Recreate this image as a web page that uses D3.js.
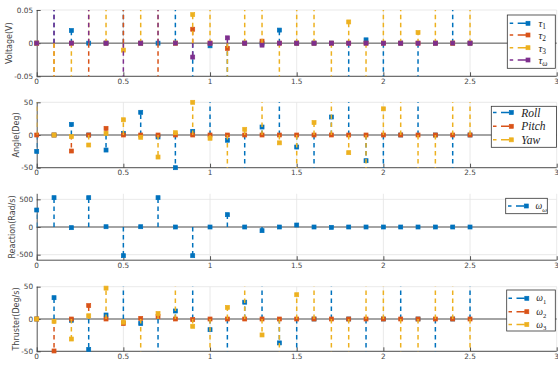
<!DOCTYPE html>
<html>
<head>
<meta charset="utf-8">
<script src="https://cdn.jsdelivr.net/npm/d3@7"></script>
<style>
  body { margin: 0; background: #fff; }
  svg { display: block; }
</style>
</head>
<body>
<svg id="chart" width="558" height="365"></svg>
<script>
// Sampling instants (s)
const time = [0, 0.1, 0.2, 0.3, 0.4, 0.5, 0.6, 0.7, 0.8, 0.9, 1.0, 1.1, 1.2,
              1.3, 1.4, 1.5, 1.6, 1.7, 1.8, 1.9, 2.0, 2.1, 2.2, 2.3, 2.4, 2.5];
const xTicks = [0, 0.5, 1, 1.5, 2, 2.5, 3];
const xTickLabels = ["0", "0.5", "1", "1.5", "2", "2.5", "3"];

// Control voltages (V); values beyond ±0.05 run off the axes
const tau1 = [0, 0.08, 0.019, 0, 0, 0.08, 0, 0, 0.08, -0.08, -0.004, -0.08, 0,
              0, 0.0197, 0, 0, 0, -0.08, 0.005, -0.08, 0, -0.08, 0, 0.08, 0];
const tau2 = [0, -0.08, 0, -0.08, 0, 0.08, 0, -0.08, 0, 0.021, 0, -0.008, 0,
              0.003, 0, 0, 0, 0, 0, 0, 0, 0, 0, 0, 0, 0];
const tau3 = [0, -0.08, -0.08, 0.08, 0.08, -0.0105, 0.08, 0.08, 0, 0.043, 0.08, -0.08, 0.08,
              0.08, -0.08, 0.08, 0.08, -0.08, 0.032, -0.08, 0.08, 0.08, 0.016, 0.08, 0, 0.08];
const tauW = [0, 0.08, 0, 0.08, 0, -0.08, 0, 0.08, 0, -0.021, 0, 0.008, 0,
              -0.003, 0, 0, 0, 0, 0, 0, 0, 0, 0, 0, 0, 0];
const voltageTicks = [-0.05, 0, 0.05];
const voltageTickLabels = ["-0.05", "0", "0.05"];

// Attitude angles (deg)
const roll  = [-25, 0, 16.3, 0, -23, 2.5, 34.7, -3, -50, 5.6, 80, -8, -80,
               12.2, 80, -18.4, -80, 27.5, 80, -39.3, -80, 0, 80, 0, -80, 0];
const pitch = [0, 0, -24.5, 0, 10.2, 0, 0, 0, 0, 0, 0, 0, 0,
               0, 0, 0, 0, 0, 0, 0, 0, 0, 0, 0, 0, 0];
const yaw   = [80, 0, -2.5, -15.3, 2.5, 23.3, -3.5, -33.7, 3.5, 50, -5, -80, 8.7,
               80, -12, -80, 19, 80, -27, -80, 40, 80, -80, -80, 80, 80];
const angleTicks = [-50, 0, 50];
const angleTickLabels = ["-50", "0", "50"];

// Reaction wheel speed (rad/s)
const wheel = [307, 530, -12, 530, 5, -518, 5, 530, 0, -518, 0, 223, 0,
               -66, 0, 36, 0, -6, 0, 0, 0, 0, 0, 0, 0, 0];
const wheelTicks = [-500, 0, 500];
const wheelTickLabels = ["-500", "0", "500"];

// Thruster body rates (deg/s)
const omega1 = [0, 33, -2, -47, 6.2, 80, -7, -80, 12.4, 80, -16.5, -80, 26,
                80, -37, -80, 0, 80, 0, -80, 0, 80, 0, -80, 0, 80];
const omega2 = [0, -49.5, 0, 20.7, 0, -7, 1, 4, 0, -1, 0, 0, 0,
                0, 0, 0, 0, 0, 0, 0, 0, 0, 0, 0, 0, 0];
const omega3 = [0, -3.6, -31, 5, 47.8, -5, -80, 8.5, 80, -11.3, -80, 18, 80,
                -24.7, -80, 37.6, 80, -80, -80, 80, 80, -80, -80, 80, 80, -80];
const rateTicks = [-50, 0, 50];
const rateTickLabels = ["-50", "0", "50"];

const BLUE = "#0072BD", ORANGE = "#D95319", YELLOW = "#EDB120", PURPLE = "#7E2F8E";

const svg = d3.select("#chart");
const x = d3.scaleLinear().domain([0, 3]).range([36.7, 556.7]);

const panels = [
  {
    top: 10, bottom: 76.3, domain: [-0.05, 0.05],
    ticks: voltageTicks, tickLabels: voltageTickLabels,
    ylabel: "Voltage(V)", labelX: 9.5,
    series: [
      { values: tau1, color: BLUE,   name: ["τ", "1", false] },
      { values: tau2, color: ORANGE, name: ["τ", "2", false] },
      { values: tau3, color: YELLOW, name: ["τ", "3", false] },
      { values: tauW, color: PURPLE, name: ["τ", "ω", true] }
    ],
    legend: { x: 507.3, y: 15, w: 48, h: 53.3, rows: [23.3, 35, 47.7, 60],
              x0: 509.7, x1: 528, tx: 538.5, size: 10.5 }
  },
  {
    top: 102.3, bottom: 167.7, domain: [-50, 50],
    ticks: angleTicks, tickLabels: angleTickLabels,
    ylabel: "Angle(Deg)", labelX: 16.5,
    series: [
      { values: roll,  color: BLUE,   name: ["Roll", "", false] },
      { values: pitch, color: ORANGE, name: ["Pitch", "", false] },
      { values: yaw,   color: YELLOW, name: ["Yaw", "", false] }
    ],
    legend: { x: 491.3, y: 106.3, w: 65.3, h: 41, rows: [112.5, 126.3, 139.8],
              x0: 493, x1: 511.3, tx: 521.3, size: 11.5 }
  },
  {
    top: 193.8, bottom: 260.2, domain: [-600, 600],
    ticks: wheelTicks, tickLabels: wheelTickLabels,
    ylabel: "Reaction(Rad/s)", labelX: 12,
    series: [
      { values: wheel, color: BLUE, name: ["ω", "ω", true] }
    ],
    legend: { x: 505.7, y: 198.3, w: 41.6, h: 15.4, rows: [206],
              x0: 508, x1: 526.3, tx: 535.5, size: 9.5 }
  },
  {
    top: 286.7, bottom: 351.3, domain: [-50, 50],
    ticks: rateTicks, tickLabels: rateTickLabels,
    ylabel: "Thruster(Deg/s)", labelX: 16.5,
    series: [
      { values: omega1, color: BLUE,   name: ["ω", "1", false] },
      { values: omega2, color: ORANGE, name: ["ω", "2", false] },
      { values: omega3, color: YELLOW, name: ["ω", "3", false] }
    ],
    legend: { x: 506.7, y: 290, w: 48.6, h: 41, rows: [298.3, 311.7, 324.5],
              x0: 508.5, x1: 526.8, tx: 536.3, size: 9.5 }
  }
];

const AXIS = "#404040", GRID = "#e3e3e3", TEXT = "#444";
const MS = 4; // marker side length

panels.forEach((p, pi) => {
  const y = d3.scaleLinear().domain(p.domain).range([p.bottom, p.top]);
  const g = svg.append("g");
  const clipId = "clip" + pi;
  svg.append("clipPath").attr("id", clipId)
    .append("rect")
    .attr("x", x(0)).attr("y", p.top)
    .attr("width", x(3) - x(0)).attr("height", p.bottom - p.top);

  // grid
  g.selectAll(".vgrid").data(xTicks.slice(1)).join("line")
    .attr("x1", d => x(d)).attr("x2", d => x(d))
    .attr("y1", p.top).attr("y2", p.bottom)
    .attr("stroke", GRID).attr("stroke-width", 0.8);
  g.selectAll(".hgrid").data(p.ticks).join("line")
    .attr("x1", x(0)).attr("x2", x(3))
    .attr("y1", d => y(d)).attr("y2", d => y(d))
    .attr("stroke", GRID).attr("stroke-width", 0.8);

  // axes (left and bottom) with inward ticks
  const yAxis = d3.axisRight(y).tickValues(p.ticks).tickSize(4).tickFormat("");
  const xAxis = d3.axisTop(x).tickValues(xTicks).tickSize(4).tickFormat("");
  const ya = g.append("g").attr("transform", `translate(${x(0)},0)`).call(yAxis);
  const xa = g.append("g").attr("transform", `translate(0,${p.bottom})`).call(xAxis);
  [ya, xa].forEach(a => {
    a.select(".domain").attr("stroke", AXIS).attr("stroke-width", 0.9);
    a.selectAll(".tick line").attr("stroke", AXIS).attr("stroke-width", 0.9);
  });
  ya.select(".domain").attr("d", `M0.5,${p.top}V${p.bottom}`);
  xa.select(".domain").attr("d", `M${x(0)},0H${x(3)}`);

  // tick labels
  g.selectAll(".ytl").data(p.ticks).join("text")
    .attr("x", x(0) - 3.6).attr("y", d => y(d))
    .attr("text-anchor", "end").attr("dominant-baseline", "central")
    .attr("font-family", "DejaVu Sans").attr("font-size", 7.3)
    .attr("fill", TEXT)
    .text((d, i) => p.tickLabels[i]);
  g.selectAll(".xtl").data(xTicks).join("text")
    .attr("x", d => x(d)).attr("y", p.bottom + 7.6)
    .attr("text-anchor", "middle")
    .attr("font-family", "DejaVu Sans").attr("font-size", 7.3)
    .attr("fill", TEXT)
    .text((d, i) => xTickLabels[i]);

  // y label
  g.append("text")
    .attr("transform", `translate(${p.labelX},${(p.top + p.bottom) / 2}) rotate(-90)`)
    .attr("text-anchor", "middle").attr("dominant-baseline", "central")
    .attr("font-family", "DejaVu Sans").attr("font-size", 8)
    .attr("fill", TEXT)
    .text(p.ylabel);

  // stem baseline
  g.append("line")
    .attr("x1", x(0)).attr("x2", x(3))
    .attr("y1", y(0)).attr("y2", y(0))
    .attr("stroke", "#555").attr("stroke-width", 1);

  // stems and markers, series by series
  p.series.forEach(s => {
    const pts = time.map((t, i) => ({ t, v: s.values[i] }));
    g.append("g").attr("clip-path", `url(#${clipId})`)
      .selectAll("line").data(pts.filter(d => d.v !== 0)).join("line")
      .attr("x1", d => x(d.t)).attr("x2", d => x(d.t))
      .attr("y1", y(0)).attr("y2", d => y(d.v))
      .attr("stroke", s.color).attr("stroke-width", 1.5)
      .attr("stroke-dasharray", "4.5,3.5");
    const lo = Math.min(...p.domain), hi = Math.max(...p.domain);
    g.append("g")
      .selectAll("rect").data(pts.filter(d => d.v >= lo && d.v <= hi)).join("rect")
      .attr("x", d => x(d.t) - MS / 2).attr("y", d => y(d.v) - MS / 2)
      .attr("width", MS).attr("height", MS)
      .attr("fill", s.color).attr("stroke", s.color).attr("stroke-width", 0.7);
  });

  // legend
  const L = p.legend;
  const lg = svg.append("g");
  lg.append("rect")
    .attr("x", L.x).attr("y", L.y).attr("width", L.w).attr("height", L.h)
    .attr("fill", "#fff").attr("stroke", "#333").attr("stroke-width", 0.8);
  p.series.forEach((s, i) => {
    const ry = L.rows[i];
    lg.append("line")
      .attr("x1", L.x0).attr("x2", L.x1 - 2).attr("y1", ry).attr("y2", ry)
      .attr("stroke", s.color).attr("stroke-width", 1.5)
      .attr("stroke-dasharray", "3.5,4.5,9,10");
    lg.append("rect")
      .attr("x", L.x1 - MS / 2).attr("y", ry - MS / 2)
      .attr("width", MS).attr("height", MS)
      .attr("fill", s.color).attr("stroke", s.color).attr("stroke-width", 0.7);
    const t = lg.append("text")
      .attr("x", L.tx).attr("y", ry).attr("dominant-baseline", "central")
      .attr("font-family", "Liberation Serif").attr("font-size", L.size)
      .attr("fill", "#222");
    t.append("tspan").attr("font-style", "italic").text(s.name[0]);
    if (s.name[1]) {
      t.append("tspan")
        .attr("dy", L.size * 0.3)
        .attr("font-size", L.size * 0.7)
        .attr("font-style", s.name[2] ? "italic" : "normal")
        .text(s.name[1]);
    }
  });
});
</script>
</body>
</html>
